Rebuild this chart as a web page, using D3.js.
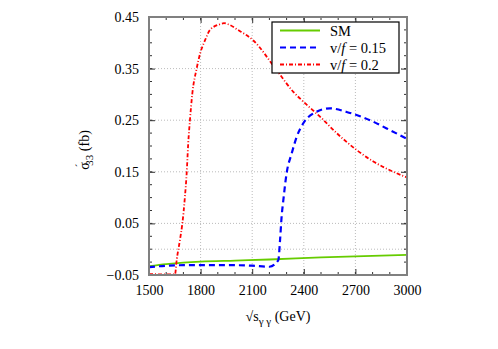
<!DOCTYPE html>
<html>
<head>
<meta charset="utf-8">
<script src="https://cdn.jsdelivr.net/npm/d3@7"></script>
<style>
  body { margin: 0; background: #fff; }
  svg text { font-family: "Liberation Serif", "Times New Roman", Times, "DejaVu Serif", serif !important; }
</style>
</head>
<body>
<div class="chart"></div>
<script>
var wi = 498;
var he = 349;
var margin = {top: 17, right: 91, bottom: 74, left: 149};

// data
var xTicks = [1500, 1800, 2100, 2400, 2700, 3000];
var yTicks = [-0.05, 0.05, 0.15, 0.25, 0.35, 0.45];

var smX = [1500, 1600, 1700, 1800, 2000, 2200, 2500, 2800, 3000];
var smY = [-0.033, -0.029, -0.026, -0.024, -0.022, -0.020, -0.016, -0.013, -0.011];

var v015X = [1500, 1600, 1700, 1800, 2000, 2100, 2200, 2252, 2262, 2271, 2281, 2300, 2330, 2359, 2397, 2455, 2552, 2649, 2785, 2882, 3000];
var v015Y = [-0.035, -0.032, -0.031, -0.031, -0.031, -0.032, -0.034, -0.021, 0.018, 0.063, 0.095, 0.147, 0.186, 0.218, 0.244, 0.263, 0.273, 0.266, 0.250, 0.234, 0.214];

var v02X = [1500, 1600, 1651, 1661, 1680, 1694, 1709, 1719, 1728, 1738, 1752, 1777, 1797, 1826, 1855, 1913, 1936, 1959, 2017, 2105, 2242, 2339, 2407, 2494, 2591, 2708, 2804, 2901, 3000];
var v02Y = [-0.048, -0.049, -0.049, -0.021, 0.018, 0.050, 0.102, 0.147, 0.205, 0.250, 0.302, 0.350, 0.379, 0.405, 0.425, 0.436, 0.438, 0.436, 0.425, 0.405, 0.347, 0.305, 0.283, 0.257, 0.225, 0.192, 0.170, 0.153, 0.139];

var legendLabels = ["SM", "v/f = 0.15", "v/f = 0.2"];

var serif = "'Liberation Serif', 'Times New Roman', Times, serif";
var fs = 14;

var w = wi - margin.left - margin.right;
var h = he - margin.top - margin.bottom;

var svg = d3.select(".chart")
  .append("svg")
  .attr("width", wi)
  .attr("height", he)
  .attr("font-family", serif);

var xScale = d3.scaleLinear()
  .domain([1500, 3000])
  .range([0, w]);
var yScale = d3.scaleLinear()
  .domain([-0.05, 0.45])
  .range([h, 0]);

var g = svg.append("g")
  .attr("transform", "translate(" + margin.left + "," + margin.top + ")");

// grid
g.selectAll(".gx")
  .data(xTicks.slice(1, -1))
  .enter()
  .append("line")
  .attr("x1", function(d) { return xScale(d); })
  .attr("x2", function(d) { return xScale(d); })
  .attr("y1", 0)
  .attr("y2", h)
  .attr("stroke", "#aaa")
  .attr("stroke-width", 0.8)
  .attr("stroke-dasharray", "1,2");

g.selectAll(".gy")
  .data(yTicks.slice(1, -1).concat([0]))
  .enter()
  .append("line")
  .attr("x1", 0)
  .attr("x2", w)
  .attr("y1", function(d) { return yScale(d); })
  .attr("y2", function(d) { return yScale(d); })
  .attr("stroke", "#aaa")
  .attr("stroke-width", 0.8)
  .attr("stroke-dasharray", "1,2");

// axes, ticks pointing inward on all four sides
var xMinor = d3.range(1500, 3001, 100);
var yMinor = d3.range(-0.05, 0.4501, 0.025);

var xAxisB = d3.axisBottom(xScale).tickValues(xTicks).tickSize(-6).tickPadding(10).tickFormat(d3.format("d"));
var xAxisT = d3.axisTop(xScale).tickValues(xTicks).tickSize(-6).tickFormat("");
var yAxisL = d3.axisLeft(yScale).tickValues(yTicks).tickSize(-6).tickPadding(10).tickFormat(d3.format(".2f"));
var yAxisR = d3.axisRight(yScale).tickValues(yTicks).tickSize(-6).tickFormat("");

var axes = [
  [xAxisB, "translate(0," + h + ")"],
  [xAxisT, "translate(0,0)"],
  [yAxisL, "translate(0,0)"],
  [yAxisR, "translate(" + w + ",0)"]
];
axes.forEach(function(a) {
  var ax = g.append("g").attr("transform", a[1]).call(a[0]);
  ax.attr("font-family", serif).attr("font-size", fs);
  ax.select(".domain").remove();
  ax.selectAll("line").attr("stroke", "#333");
  ax.selectAll("text").attr("fill", "#000");
});

// minor ticks
[[0, 1], [h, -1]].forEach(function(s) {
  g.selectAll(null)
    .data(xMinor)
    .enter()
    .append("line")
    .attr("x1", function(d) { return xScale(d); })
    .attr("x2", function(d) { return xScale(d); })
    .attr("y1", s[0])
    .attr("y2", s[0] + s[1] * 3)
    .attr("stroke", "#333");
});
[[0, 1], [w, -1]].forEach(function(s) {
  g.selectAll(null)
    .data(yMinor)
    .enter()
    .append("line")
    .attr("y1", function(d) { return yScale(d); })
    .attr("y2", function(d) { return yScale(d); })
    .attr("x1", s[0])
    .attr("x2", s[0] + s[1] * 3)
    .attr("stroke", "#333");
});

// curves
var line = d3.line()
  .x(function(d) { return xScale(d[0]); })
  .y(function(d) { return yScale(d[1]); })
  .curve(d3.curveMonotoneX);

var series = [
  {x: smX, y: smY, color: "#66cc00", width: 1.8, dash: null},
  {x: v015X, y: v015Y, color: "#0000ff", width: 2.2, dash: "6,4"},
  {x: v02X, y: v02Y, color: "#ff0000", width: 1.8, dash: "4,2,1,2"}
];

svg.append("clipPath").attr("id", "clip")
  .append("rect").attr("width", w).attr("height", h);

series.forEach(function(s) {
  g.append("path")
    .datum(d3.zip(s.x, s.y))
    .attr("clip-path", "url(#clip)")
    .attr("d", line)
    .attr("fill", "none")
    .attr("stroke", s.color)
    .attr("stroke-width", s.width)
    .attr("stroke-dasharray", s.dash);
});

// frame
g.append("rect")
  .attr("width", w)
  .attr("height", h)
  .attr("fill", "none")
  .attr("stroke", "#808080")
  .attr("stroke-width", 2);

// legend
var leg = g.append("g")
  .attr("transform", "translate(" + (272 - margin.left) + "," + (22 - margin.top) + ")");
leg.append("rect")
  .attr("width", 127)
  .attr("height", 51)
  .attr("fill", "#fff")
  .attr("stroke", "#000")
  .attr("stroke-width", 1.2);

series.forEach(function(s, i) {
  var yy = 8.5 + i * 17;
  leg.append("line")
    .attr("x1", 8)
    .attr("x2", 48)
    .attr("y1", yy)
    .attr("y2", yy)
    .attr("stroke", s.color)
    .attr("stroke-width", s.width)
    .attr("stroke-dasharray", s.dash);
  var t = leg.append("text")
    .attr("x", 58)
    .attr("y", yy + 5)
    .attr("font-size", fs + 0.5);
  if (i == 0) {
    t.text(legendLabels[0]);
  } else {
    var parts = legendLabels[i].split("f");
    t.append("tspan").text(parts[0]);
    t.append("tspan").attr("font-style", "italic").text("f");
    t.append("tspan").text(parts[1]);
  }
});

// axis titles
var xt = svg.append("text")
  .attr("x", margin.left + w / 2)
  .attr("y", 321)
  .attr("text-anchor", "middle")
  .attr("font-size", fs);
xt.append("tspan").text("\u221As");
xt.append("tspan").attr("font-size", 11).attr("dy", 4).text("\u03B3 \u03B3");
xt.append("tspan").attr("dy", -4).text(" (GeV)");

var yt = svg.append("text")
  .attr("transform", "translate(89,150) rotate(-90)")
  .attr("text-anchor", "middle")
  .attr("font-size", fs);
yt.append("tspan").text("\u03C3");
yt.append("tspan").attr("font-size", 11).attr("dy", -6).attr("dx", -5).text("\u00B4");
yt.append("tspan").attr("font-size", 11).attr("dy", 10).attr("dx", -2).text("33");
yt.append("tspan").attr("dy", -4).text(" (fb)");
</script>
</body>
</html>
